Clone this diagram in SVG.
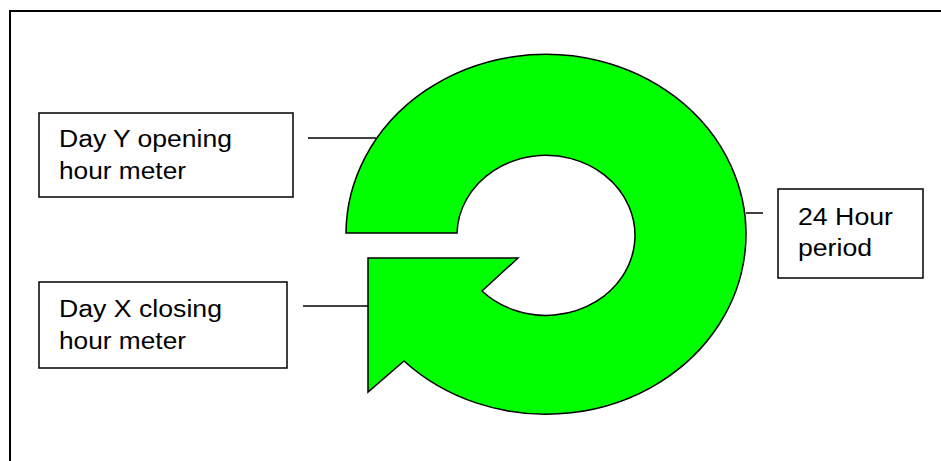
<svg xmlns="http://www.w3.org/2000/svg" width="941" height="461" viewBox="0 0 941 461">
<style>
.box{fill:#fff;stroke:#000;stroke-width:1.5}
.t{font-family:"Liberation Sans",Arial,sans-serif;font-size:23px;fill:#000}
.ln{stroke:#000;stroke-width:1.5;fill:none}
</style>
<rect width="941" height="461" fill="#fff"/>
<rect x="10" y="11" width="1000" height="500" fill="none" stroke="#000" stroke-width="2"/>
<g id="cycle">
<path d="M346,233 A200,180 0 1 1 404,361 L368,392 L368,258 L518,258 L482,291 A89,80 0 1 0 457,233 Z" fill="#00ff00" stroke="#000" stroke-width="1.5" stroke-linejoin="miter"/>
</g>
<g id="connectors">
<line class="ln" x1="308" y1="138" x2="376" y2="138"/>
<line class="ln" x1="303" y1="306" x2="368" y2="306"/>
<line class="ln" x1="746" y1="213" x2="763" y2="213"/>
</g>
<g id="dayY">
<rect class="box" x="39" y="113" width="254" height="84"/>
<text class="t" x="59" y="147" textLength="173" lengthAdjust="spacingAndGlyphs">Day Y opening</text>
<text class="t" x="59" y="179" textLength="127" lengthAdjust="spacingAndGlyphs">hour meter</text>
</g>
<g id="dayX">
<rect class="box" x="39" y="282" width="248" height="86"/>
<text class="t" x="59" y="317" textLength="163" lengthAdjust="spacingAndGlyphs">Day X closing</text>
<text class="t" x="59" y="349" textLength="127" lengthAdjust="spacingAndGlyphs">hour meter</text>
</g>
<g id="period">
<rect class="box" x="778" y="189" width="145" height="89"/>
<text class="t" x="798" y="225" textLength="95" lengthAdjust="spacingAndGlyphs">24 Hour</text>
<text class="t" x="798" y="256" textLength="74" lengthAdjust="spacingAndGlyphs">period</text>
</g>
</svg>
